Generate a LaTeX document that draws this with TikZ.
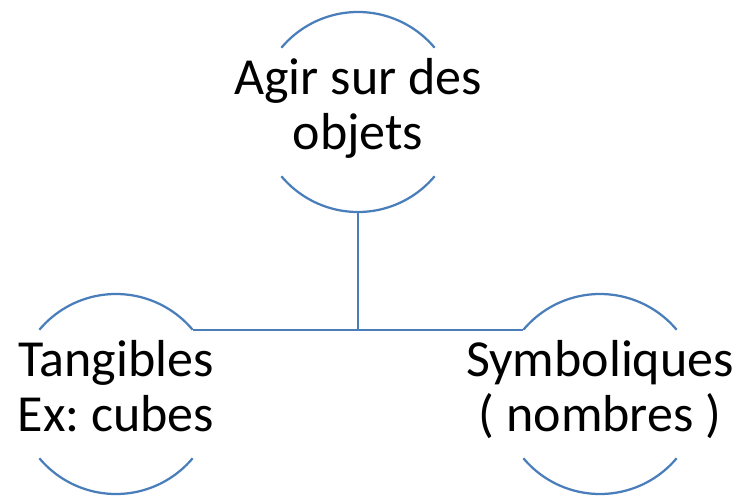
\documentclass[tikz,border=0pt]{standalone}
\usepackage{fontspec}
\setmainfont{Carlito}
\usepackage{tikz}
\frenchspacing
\definecolor{bleu}{RGB}{74,126,187}
\tikzstyle{cercle} = [circle,minimum size=5cm,inner sep=0pt,outer sep=0pt]
\tikzstyle{trait} = [draw=bleu,line width=1.6pt]
\tikzstyle{texte} = [align=center,inner sep=0pt,font=\fontsize{37}{38.5}\selectfont,
	execute at begin node=\strut,execute at end node=\strut]

\begin{document}
\begin{tikzpicture}
	\useasboundingbox (0,0) rectangle (18.6,12.375);

	\node[cercle] (A) at (8.95,9.575) {};
	\node[texte] (Atxt) at (A) {Agir sur des\\objets};

	\node[cercle] (T) at (2.9,2.525) {};
	\node[texte] (Ttxt) at (T) {Tangibles\\Ex: cubes};

	\node[cercle] (S) at (15,2.525) {};
	\node[texte] (Stxt) at (S) {Symboliques\\( nombres )};

	% arcs au-dessus et au-dessous du texte
	\foreach \c in {A,T,S} {
		\draw[trait] (\c.40) arc (40:140:2.5);
		\draw[trait] (\c.220) arc (220:320:2.5);
	}

	\draw[trait] (T.40) -- (S.140);
	\draw[trait] (A.south) -- (A.south |- T.40);
\end{tikzpicture}
\end{document}
